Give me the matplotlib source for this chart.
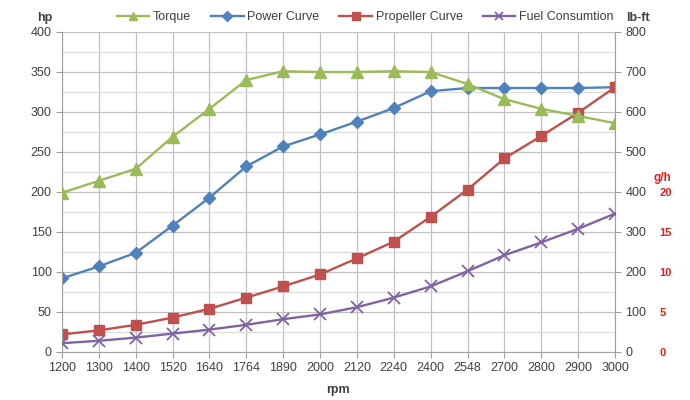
import numpy as np
import matplotlib
matplotlib.use("Agg")
from matplotlib import pyplot as plt
from matplotlib.ticker import MultipleLocator

plt.rcParams['font.family'] = ['Liberation Sans', 'DejaVu Sans']

rpm = ['1200', '1300', '1400', '1520', '1640', '1764', '1890', '2000',
       '2120', '2240', '2400', '2548', '2700', '2800', '2900', '3000']
torque_lbft = [398, 428, 458, 538, 608, 680, 702, 700,
               700, 702, 700, 670, 632, 608, 590, 572]
power_hp = [92, 107, 124, 158, 193, 232, 257, 272,
            288, 305, 326, 330, 330, 330, 330, 331]
propeller_hp = [22, 27, 34, 43, 54, 68, 82, 97,
                117, 138, 169, 203, 242, 270, 299, 331]
fuel_gh = [1.1, 1.4, 1.8, 2.3, 2.8, 3.4, 4.1, 4.7,
           5.6, 6.8, 8.2, 10.1, 12.1, 13.7, 15.4, 17.3]

GREEN = '#9BBB59'
BLUE = '#4F81BD'
RED = '#C0504D'
PURPLE = '#8064A2'
TXT = '#404040'

x = np.arange(len(rpm))

fig = plt.figure(figsize=(6.9, 4.0), dpi=100)
ax = fig.add_axes([62 / 690, 48 / 400, 553 / 690, 320 / 400])
ax_t = ax.twinx()
ax_f = ax.twinx()

lw = 1.7
l1, = ax_t.plot(x, torque_lbft, color=GREEN, lw=lw, marker='^', ms=8, label='Torque')
l2, = ax.plot(x, power_hp, color=BLUE, lw=lw, marker='D', ms=6, label='Power Curve')
l3, = ax.plot(x, propeller_hp, color=RED, lw=lw, marker='s', ms=7, label='Propeller Curve')
l4, = ax_f.plot(x, fuel_gh, color=PURPLE, lw=lw, marker='x', ms=8, mew=1.3,
                label='Fuel Consumtion')

ax.set_xlim(0, len(rpm) - 1)
ax.set_ylim(0, 400)
ax_t.set_ylim(0, 800)
ax_f.set_ylim(0, 40)

ax.set_xticks(x)
ax.set_xticklabels(rpm)
ax.yaxis.set_major_locator(MultipleLocator(50))
ax.yaxis.set_minor_locator(MultipleLocator(25))
ax_t.yaxis.set_major_locator(MultipleLocator(100))
ax_f.set_yticks([0, 5, 10, 15, 20])

ax.grid(True, which='major', color='#C0C0C0', lw=0.9)
ax.grid(True, which='minor', axis='y', color='#DCDCDC', lw=0.9)
ax.set_axisbelow(True)

for a in (ax, ax_t, ax_f):
    for s in a.spines.values():
        s.set_visible(False)
ax.spines['left'].set_visible(True)
ax.spines['bottom'].set_visible(True)
ax_t.spines['right'].set_visible(True)
for s in (ax.spines['left'], ax.spines['bottom'], ax_t.spines['right']):
    s.set_color('#A0A0A0')

ax.tick_params(axis='both', which='major', labelsize=9, colors='#A0A0A0',
               labelcolor=TXT, length=4, direction='out')
ax.tick_params(axis='y', which='minor', length=0)
ax_t.tick_params(axis='y', labelsize=9, colors='#A0A0A0', labelcolor=TXT,
                 length=4, direction='out')
ax_f.tick_params(axis='y', length=0, pad=32, labelsize=8, labelcolor='#E0201B')
for t in ax_f.get_yticklabels():
    t.set_fontweight('bold')

fig.text(45 / 690, 1 - 18 / 400, 'hp', fontsize=9, fontweight='bold', color=TXT,
         ha='center', va='center')
fig.text(638 / 690, 1 - 18 / 400, 'lb-ft', fontsize=9, fontweight='bold', color=TXT,
         ha='center', va='center')
fig.text(662 / 690, 1 - 178 / 400, 'g/h', fontsize=8.5, fontweight='bold',
         color='#E0201B', ha='center', va='center')
fig.text(338 / 690, 1 - 390 / 400, 'rpm', fontsize=9, fontweight='bold', color=TXT,
         ha='center', va='center')

fig.legend(handles=[l1, l2, l3, l4], loc='center', ncol=4, frameon=False,
           bbox_to_anchor=(365 / 690, 1 - 17 / 400), fontsize=9,
           handlelength=2.6, columnspacing=1.6, handletextpad=0.3,
           labelcolor=TXT, markerscale=0.8)

fig.savefig('out.png', dpi=100)
